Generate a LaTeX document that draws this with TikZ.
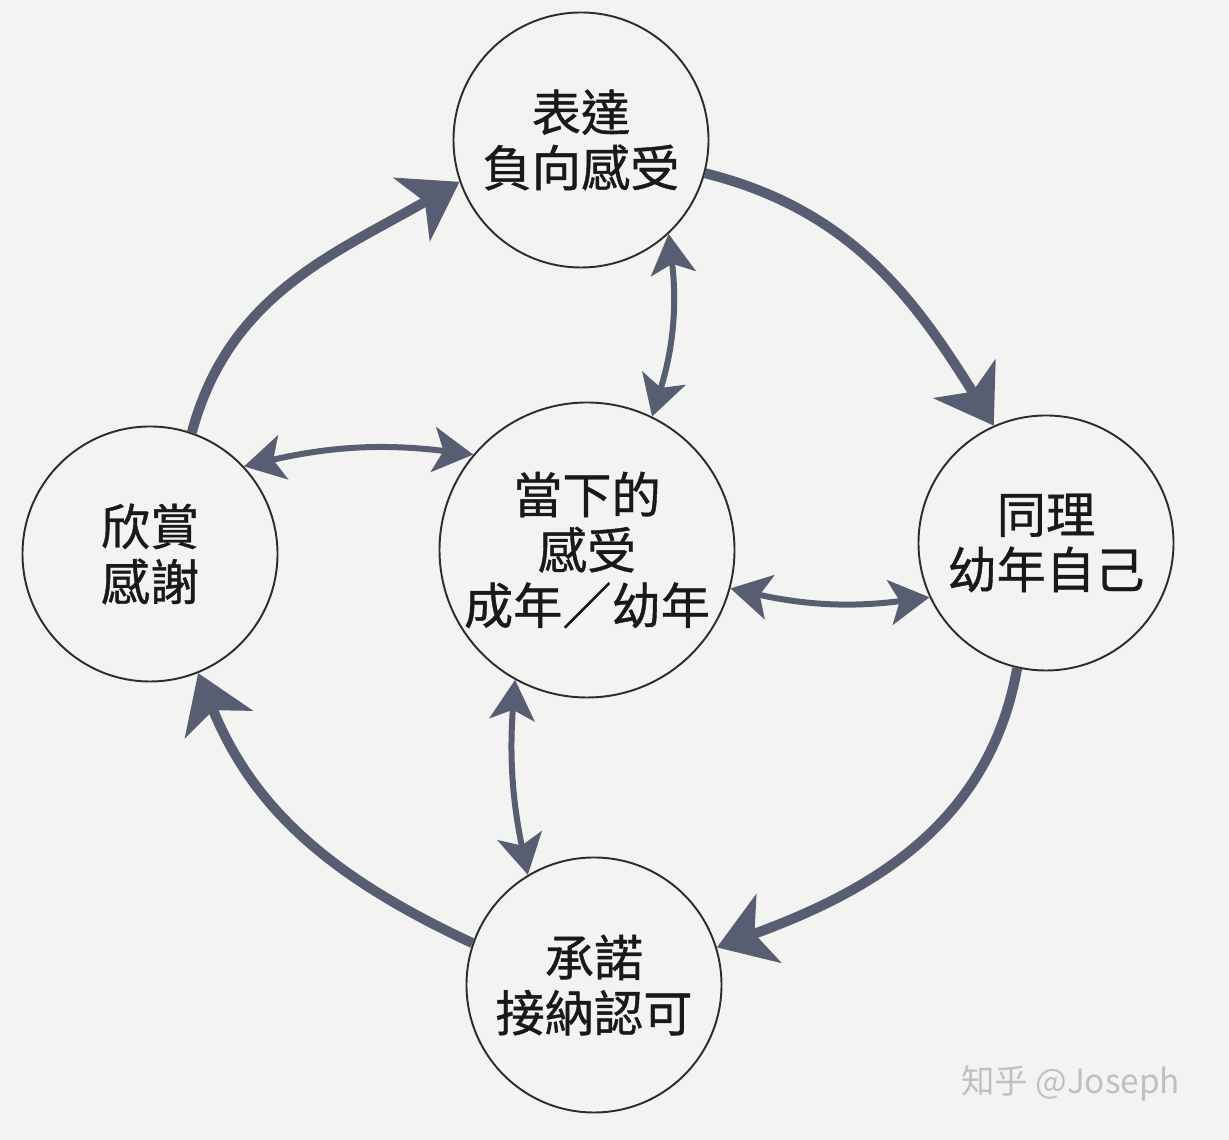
\documentclass[tikz,border=0pt]{standalone}
\usepackage{fontspec}
\newfontfamily\cjk{Noto Sans CJK TC}[FakeBold=0.8]
\newfontfamily\markfont{Noto Sans CJK TC}
\usepackage{xcolor}
\definecolor{loopslate}{RGB}{88,94,114}
\definecolor{paper}{RGB}{243,243,241}
\definecolor{ringgray}{RGB}{45,45,45}
\definecolor{markgray}{RGB}{192,192,192}
\usepackage{tikz}
\usetikzlibrary{
  arrows.meta,
  positioning
}

\begin{document}
\begin{tikzpicture}[
    >=Stealth,
    stage/.style={circle, draw=ringgray, line width=1.1pt, minimum size=5.1cm,
      inner sep=0pt, align=center, text=black!90,
      font=\cjk\fontsize{28}{31.5}\selectfont},
    core/.style={stage, minimum size=5.9cm},
    cyclearrow/.style={draw=loopslate, line width=0.2cm,
      -{Stealth[length=1.1cm, width=1.45cm, inset=0.3cm]}},
    linkarrow/.style={draw=loopslate, line width=0.12cm,
      {Stealth[length=0.8cm, width=0.9cm, inset=0.2cm]}-{Stealth[length=0.8cm, width=0.9cm, inset=0.2cm]}}
  ]

  \fill[paper] (0,0) rectangle (24.58,22.8);
  \useasboundingbox (0,0) rectangle (24.58,22.8);

  %% --- Stages ---
  \node[stage] (express) at (11.62,20.00) {表達\\負向感受};
  \node[stage] (empathy) at (20.92,11.94) {同理\\幼年自己};
  \node[stage] (commit)  at (11.88,3.10)  {承諾\\接納認可};
  \node[stage] (thanks)  at (3.00,11.72)  {欣賞\\感謝};
  \node[core]  (now)     at (11.74,11.80) {當下的\\感受\\成年／幼年};

  %% --- Outer cycle ---
  \draw[cyclearrow] (thanks.71)   to[out=75,  in=210] (express.199);
  \draw[cyclearrow] (express.-15) to[out=-14, in=122] (empathy.114);
  \draw[cyclearrow] (empathy.257) to[out=-100, in=20] (commit.17);
  \draw[cyclearrow] (commit.161)  to[out=155, in=-68] (thanks.-68);

  %% --- Links to the centre ---
  \draw[linkarrow] (thanks.43) to[bend left=10]  (now.140);
  \draw[linkarrow] (now.64)    to[bend right=12] (express.-47);
  \draw[linkarrow] (now.-15)   to[bend right=10] (empathy.205);
  \draw[linkarrow] (now.241)   to[bend right=8]  (commit.121);

  %% --- Watermark ---
  \node[font=\markfont\fontsize{19}{19}\selectfont, text=markgray, anchor=west]
    (mark) at (19.1,1.14) {知乎 @Joseph};
\end{tikzpicture}
\end{document}
